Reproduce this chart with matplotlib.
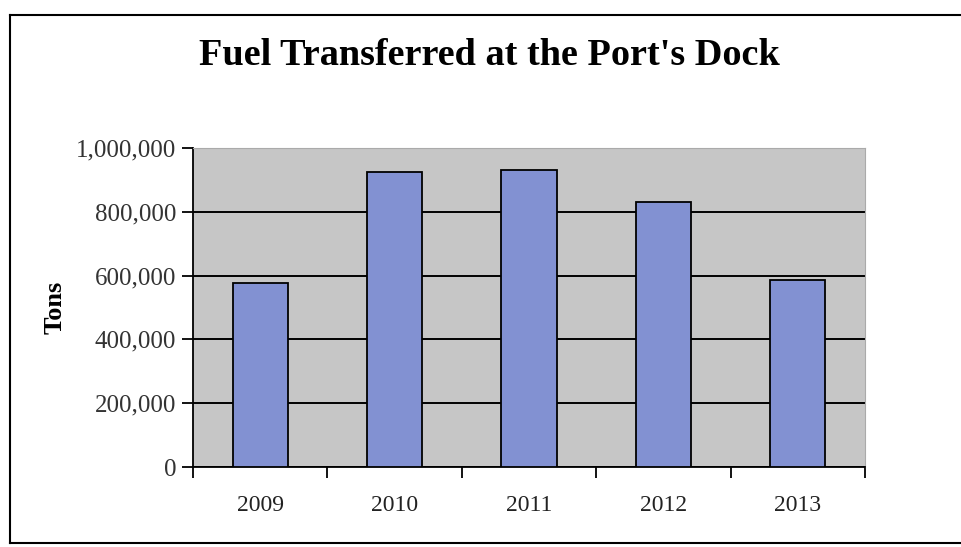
import matplotlib
matplotlib.use("Agg")
import matplotlib.pyplot as plt
from matplotlib.ticker import FuncFormatter, FixedLocator
from matplotlib.lines import Line2D

# datos
years = ["2009", "2010", "2011", "2012", "2013"]
tons = [577000, 924000, 932000, 831000, 587000]
y_ticks = [0, 200000, 400000, 600000, 800000, 1000000]

plt.rcParams['font.family'] = ['Liberation Serif', 'DejaVu Serif']

fig = plt.figure(figsize=(9.61, 5.47), dpi=100)
ax = fig.add_axes([193 / 961, 80 / 547, 672 / 961, 319 / 547])

# fondo gris del area del grafico
ax.set_facecolor('#c6c6c6')
ax.set_axisbelow(True)
ax.yaxis.grid(True, color='black', linewidth=1.4)

x = range(len(years))
ax.bar(x, tons, width=0.41, color='#8291d2', edgecolor='black', linewidth=1.3, zorder=3)

ax.set_xlim(-0.5, len(years) - 0.5)
ax.set_ylim(0, 1000000)
ax.set_yticks(y_ticks)
ax.yaxis.set_major_formatter(FuncFormatter(lambda v, p: f"{int(v):,}"))

# ticks del eje x entre categorias
ax.set_xticks(list(x))
ax.set_xticklabels(years)
ax.xaxis.set_minor_locator(FixedLocator([i - 0.5 for i in range(len(years) + 1)]))
ax.tick_params(axis='x', which='major', length=0, pad=20, labelsize=17, labelcolor='#222222')
ax.tick_params(axis='x', which='minor', length=8, width=1.3, direction='out')
ax.tick_params(axis='y', length=8, width=1.3, direction='out', labelsize=18, pad=4,
               labelcolor='#333333')

for side in ['top', 'right']:
    ax.spines[side].set_color('#aaaaaa')
    ax.spines[side].set_linewidth(0.8)
for side in ['left', 'bottom']:
    ax.spines[side].set_color('black')
    ax.spines[side].set_linewidth(1.3)

ax.set_ylabel("Tons", fontsize=19, fontweight='bold', labelpad=7)

fig.text(489 / 961, 1 - 55 / 547, "Fuel Transferred at the Port's Dock",
         ha='center', va='center', fontsize=27.5, fontweight='bold')

# marco exterior del grafico
fig.add_artist(Line2D([10 / 961, 10 / 961], [1 - 15 / 547, 1 - 543 / 547],
                      transform=fig.transFigure, color='black', linewidth=1.5))
fig.add_artist(Line2D([10 / 961, 1], [1 - 15 / 547, 1 - 15 / 547],
                      transform=fig.transFigure, color='black', linewidth=1.5))
fig.add_artist(Line2D([10 / 961, 1], [1 - 543 / 547, 1 - 543 / 547],
                      transform=fig.transFigure, color='black', linewidth=1.5))

fig.savefig("out.png", dpi=100)
